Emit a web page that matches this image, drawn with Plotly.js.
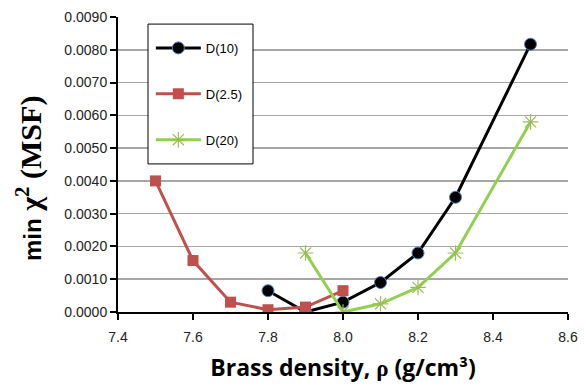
<!DOCTYPE html>
<html>
<head>
<meta charset="utf-8">
<script src="https://cdn.plot.ly/plotly-3.0.1.min.js"></script>
<style>html,body{margin:0;padding:0;background:#fff;}#chart{width:584px;height:388px;}</style>
</head>
<body>
<div id="chart"></div>
<script>
const seriesNames = ["D(10)", "D(2.5)", "D(20)"];
const d10X = [7.8, 7.9, 8.0, 8.1, 8.2, 8.3, 8.5];
const d10Y = [0.00065, 0.0000, 0.0003, 0.0009, 0.0018, 0.0035, 0.00817];
const d25X = [7.5, 7.6, 7.7, 7.8, 7.9, 8.0];
const d25Y = [0.0040, 0.00157, 0.0003, 0.00007, 0.00015, 0.00065];
const d20X = [7.9, 8.0, 8.1, 8.2, 8.3, 8.5];
const d20Y = [0.0018, 0.0000, 0.00025, 0.00075, 0.0018, 0.0058];
const xTicks = [7.4, 7.6, 7.8, 8.0, 8.2, 8.4, 8.6];
const yTicks = [0, 0.001, 0.002, 0.003, 0.004, 0.005, 0.006, 0.007, 0.008, 0.009];
const xTitle = "<b>Brass density, <span style='font-family:serif'>ρ</span> (g/cm³)</b>";
const yTitle = "<b><span style='font-family:Liberation Sans Narrow, Liberation Sans, sans-serif;font-size:24px'>min</span> χ<sup>2</sup> (MSF)</b>";

const traces = [
  {x: d10X, y: d10Y, name: seriesNames[0], legendgroup: "a", mode: "lines+markers",
   line: {color: "#000000", width: 3},
   marker: {symbol: "circle", size: 12, color: "#000000", line: {color: "#4f81bd", width: 1}}},
  {x: d25X, y: d25Y, name: seriesNames[1], legendgroup: "b", mode: "lines+markers",
   line: {color: "#c0504d", width: 3},
   marker: {symbol: "square", size: 11, color: "#c0504d"}},
  {x: d20X, y: d20Y, name: seriesNames[2], legendgroup: "c", mode: "lines+markers",
   line: {color: "#92d050", width: 3},
   marker: {symbol: "asterisk-open", size: 13, color: "#9bbb59", line: {color: "#9bbb59", width: 1.2}}}
];

const layout = {
  width: 584, height: 388,
  margin: {l: 118, r: 16, t: 17, b: 76},
  paper_bgcolor: "#ffffff", plot_bgcolor: "#ffffff",
  font: {family: "Liberation Sans, Arial, sans-serif", size: 14, color: "#222222"},
  showlegend: true,
  legend: {
    x: 0.073, y: 0.946, xanchor: "left", yanchor: "top",
    borderwidth: 0, bgcolor: "rgba(0,0,0,0)",
    font: {size: 13, color: "#000000"},
    itemwidth: 45,
    traceorder: "grouped", tracegroupgap: 26
  },
  shapes: [
    {type: "rect", xref: "paper", yref: "paper", x0: 0.0667, x1: 0.3, y0: 0.502, y1: 0.976,
     line: {color: "#000000", width: 1}, fillcolor: "#ffffff", layer: "above"}
  ],
  annotations: [
    {xref: "paper", yref: "paper", x: -0.198, y: 0.454, xanchor: "center", yanchor: "middle",
     textangle: -90, showarrow: false, text: yTitle,
     font: {size: 30, color: "#000000", family: "Liberation Serif, Times New Roman, serif"}}
  ],
  xaxis: {
    range: [7.4, 8.6], tickvals: xTicks, ticktext: xTicks.map(v => v.toFixed(1)),
    showgrid: false, zeroline: false,
    showline: true, linecolor: "#000000", linewidth: 2,
    ticks: "outside", ticklen: 6, tickwidth: 2, tickcolor: "#000000",
    ticklabelstandoff: 5,
    tickfont: {size: 14, color: "#222222"},
    title: {text: xTitle,
            font: {size: 23, color: "#000000", family: "Open Sans, Liberation Sans, sans-serif"}, standoff: 16}
  },
  yaxis: {
    range: [0, 0.009], tickvals: yTicks, ticktext: yTicks.map(v => v.toFixed(4)),
    showgrid: true, gridcolor: "#a6a6a6", gridwidth: 1.5, zeroline: false,
    showline: true, linecolor: "#000000", linewidth: 2,
    ticks: "outside", ticklen: 6, tickwidth: 2, tickcolor: "#000000",
    tickfont: {size: 14, color: "#222222"}
  }
};

Plotly.newPlot("chart", traces, layout, {displayModeBar: false, staticPlot: true});
</script>
</body>
</html>
